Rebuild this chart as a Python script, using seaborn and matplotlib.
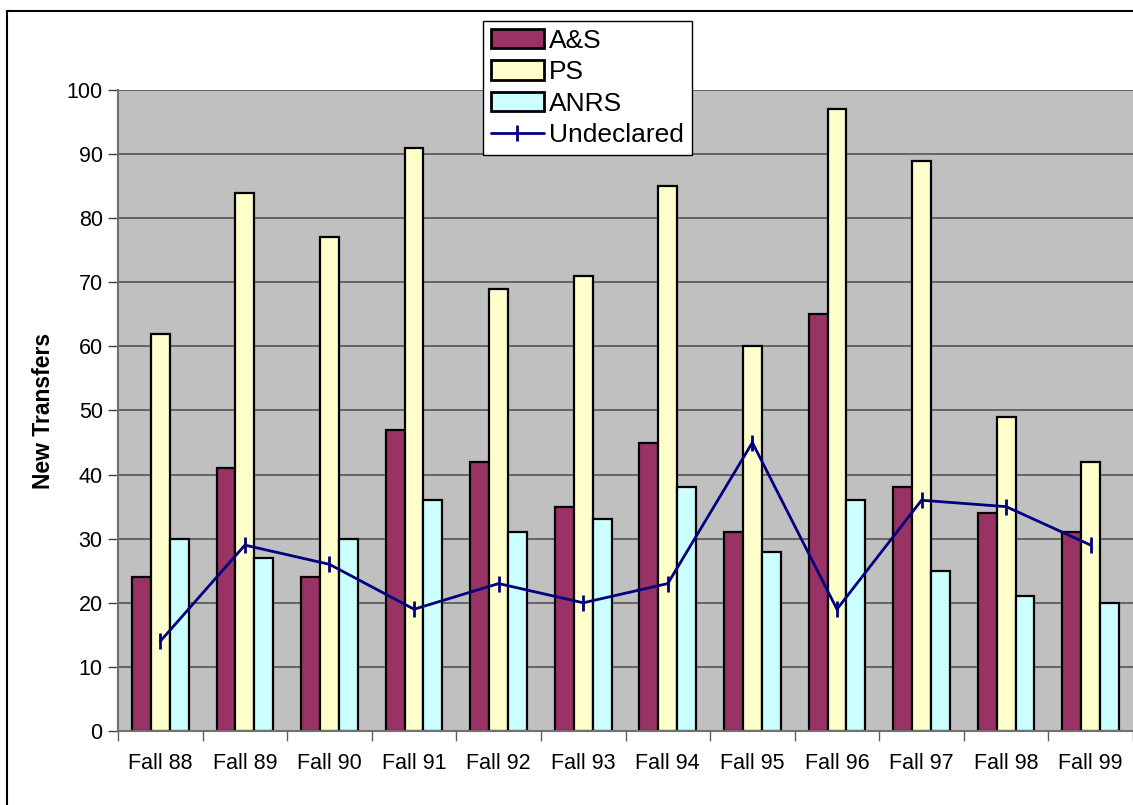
import pandas as pd
import numpy as np
import matplotlib.pyplot as plt
import seaborn as sns
from matplotlib.patches import Patch, Rectangle
from matplotlib.lines import Line2D

# data
terms = ['Fall 88', 'Fall 89', 'Fall 90', 'Fall 91', 'Fall 92', 'Fall 93',
         'Fall 94', 'Fall 95', 'Fall 96', 'Fall 97', 'Fall 98', 'Fall 99']
a_s = [24, 41, 24, 47, 42, 35, 45, 31, 65, 38, 34, 31]
ps = [62, 84, 77, 91, 69, 71, 85, 60, 97, 89, 49, 42]
anrs = [30, 27, 30, 36, 31, 33, 38, 28, 36, 25, 21, 20]
undeclared = [14, 29, 26, 19, 23, 20, 23, 45, 19, 36, 35, 29]

colleges = ['A&S', 'PS', 'ANRS']
colors = {'A&S': '#993366', 'PS': '#FFFFCC', 'ANRS': '#CCFFFF'}
line_color = '#000080'

df = pd.DataFrame({'Term': terms * 3,
                   'College': ['A&S'] * 12 + ['PS'] * 12 + ['ANRS'] * 12,
                   'Count': a_s + ps + anrs})

sns.set_style('white')
plt.rcParams['font.family'] = ['Liberation Sans', 'DejaVu Sans']
plt.rcParams['text.color'] = 'black'
plt.rcParams['xtick.color'] = 'black'
plt.rcParams['ytick.color'] = 'black'
plt.rcParams['axes.labelcolor'] = 'black'

fig = plt.figure(figsize=(11.33, 8.05), dpi=100)
ax = fig.add_axes([118 / 1133, 1 - 731 / 805, 1 - 118 / 1133, (731 - 90) / 805])
ax.set_facecolor('#C0C0C0')

sns.barplot(data=df, x='Term', y='Count', hue='College', hue_order=colleges,
            order=terms, palette=colors, saturation=1, width=0.67, gap=0,
            edgecolor='black', linewidth=1.6, errorbar=None, legend=False, ax=ax)

sns.pointplot(x=terms, y=undeclared, order=terms, color=line_color, markers='|',
              markersize=11, markeredgewidth=2, linewidth=2, errorbar=None, ax=ax)

ax.set_ylim(0, 100)
ax.set_yticks(np.arange(0, 101, 10))
ax.set_xlim(-0.5, 11.48)
ax.yaxis.grid(True, color='#555555', linewidth=1.2)
ax.set_axisbelow(True)

# x tick marks sit between the categories
ax.set_xticks(np.arange(-0.5, 12, 1), minor=True)
ax.tick_params(axis='x', which='major', length=0, pad=16, labelsize=15.5, labelcolor='black')
ax.tick_params(axis='x', which='minor', length=7, width=1, color='#606060', direction='out', bottom=True)
ax.tick_params(axis='y', length=7, width=1, color='#404040', direction='out', left=True, pad=4,
               labelsize=15.5, labelcolor='black')

for side in ['top', 'right']:
    ax.spines[side].set_visible(False)
ax.spines['left'].set_color('#707070')
ax.spines['bottom'].set_color('#707070')
ax.spines['left'].set_linewidth(1.5)
ax.spines['bottom'].set_linewidth(1.5)

ax.set_xlabel('')
ax.set_ylabel('New Transfers', fontsize=16.5, fontweight='bold', va='center', color='black')
ax.yaxis.set_label_coords(-75 / 1017, 0.5)

handles = [Patch(facecolor=colors[c], edgecolor='black', linewidth=2) for c in colleges]
handles.append(Line2D([], [], color=line_color, linewidth=2, marker='|', markersize=11, markeredgewidth=2))
leg = fig.legend(handles, colleges + ['Undeclared'], loc='upper left',
                 bbox_to_anchor=(483 / 1133, 1 - 21 / 805), fontsize=19,
                 frameon=True, fancybox=False, framealpha=1, edgecolor='black',
                 handlelength=2.0, handleheight=0.75, handletextpad=0.2,
                 labelspacing=0.28, borderpad=0.3, borderaxespad=0)
leg.get_frame().set_linewidth(1)

# outer chart border
fig.patches.append(Rectangle((7 / 1133, -0.05), 1.2, 1.05 - 11 / 805, transform=fig.transFigure,
                             fill=False, edgecolor='black', linewidth=1.5, clip_on=False))

fig.savefig('out.png', dpi=100)
